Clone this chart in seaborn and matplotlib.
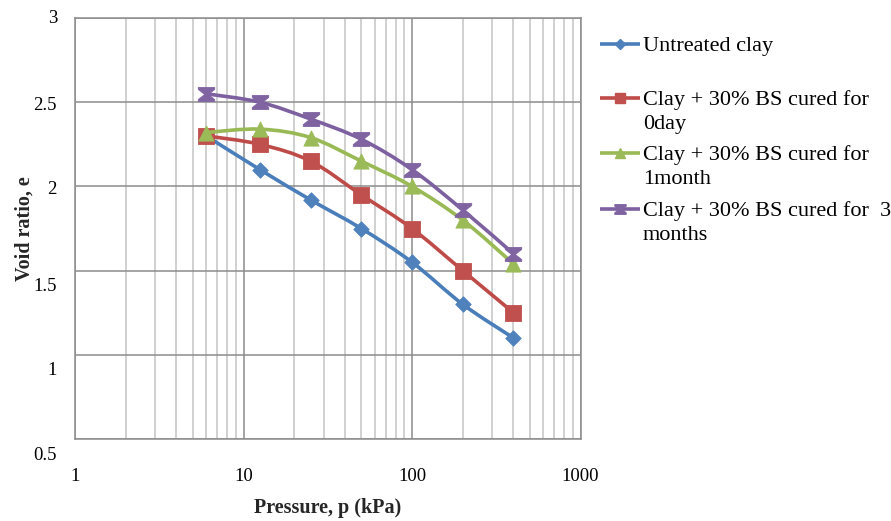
import numpy as np
import pandas as pd
import matplotlib
matplotlib.use("Agg")
import matplotlib.pyplot as plt
from matplotlib.path import Path
from matplotlib.patches import PathPatch
from matplotlib.lines import Line2D
from matplotlib.ticker import FixedLocator, LogLocator, NullFormatter
from matplotlib.transforms import ScaledTranslation
import seaborn as sns

# ---- data -------------------------------------------------------------
pressure = [6, 12.5, 25, 50, 100, 200, 400]            # kPa
untreated = [2.30, 2.10, 1.92, 1.75, 1.55, 1.30, 1.10]
cured_0day = [2.30, 2.25, 2.15, 1.95, 1.75, 1.50, 1.25]
cured_1month = [2.32, 2.34, 2.29, 2.15, 2.00, 1.80, 1.54]
cured_3months = [2.55, 2.50, 2.40, 2.28, 2.10, 1.86, 1.60]

series_labels = [
    "Untreated clay",
    "Clay + 30% BS cured for\n0day",
    "Clay + 30% BS cured for\n1month",
    "Clay + 30% BS cured for  3\nmonths",
]
x_ticks = [1, 10, 100, 1000]
x_tick_labels = ["1", "10", "100", "1000"]
y_ticks = [0.5, 1, 1.5, 2, 2.5, 3]
y_tick_labels = ["0.5", "1", "1.5", "2", "2.5", "3"]

# ---- styling ----------------------------------------------------------
sns.set_theme(style="white")
plt.rcParams["font.family"] = ["Liberation Serif", "DejaVu Serif"]

line_colors = ["#4A7EBB", "#BE4B48", "#98B954", "#7D60A0"]
fill_colors = ["#4F81BD", "#C0504D", "#9BBB59", "#8064A2"]

hourglass = Path(
    [(-1, 0.85), (1, 0.85), (1, 0.62), (0.22, 0), (1, -0.62), (1, -0.85),
     (-1, -0.85), (-1, -0.62), (-0.22, 0), (-1, 0.62), (-1, 0.85)],
    closed=True,
)
markers = ["D", "s", "^", hourglass]
marker_area = [62, 130, 120, 140]        # points^2 on the chart
legend_msize = [5.0, 7.5, 7.5, 8.0]      # points in the key

W, H = 891, 521
fig = plt.figure(figsize=(W / 100, H / 100), dpi=100)
ax = fig.add_axes([75 / W, (H - 439) / H, (580.5 - 75) / W, (439 - 18) / H])
ax.set_xscale("log")
ax.set_xlim(1, 1000)
ax.set_ylim(0.5, 3)


def smooth_path(xs, ys):
    """Cubic Bezier through the points (Catmull-Rom tangents in log-x space)."""
    pts = np.column_stack([np.log10(xs), np.asarray(ys, float)])
    n = len(pts)
    verts, codes = [pts[0]], [Path.MOVETO]
    for i in range(n - 1):
        p0 = pts[i - 1] if i > 0 else pts[i]
        p1, p2 = pts[i], pts[i + 1]
        p3 = pts[i + 2] if i + 2 < n else pts[i + 1]
        verts += [p1 + (p2 - p0) / 6, p2 - (p3 - p1) / 6, p2]
        codes += [Path.CURVE4] * 3
    verts = np.array(verts)
    verts[:, 0] = 10 ** verts[:, 0]
    return Path(verts, codes)


all_series = [untreated, cured_0day, cured_1month, cured_3months]
for i, vals in enumerate(all_series):
    df = pd.DataFrame({"pressure": pressure, "void_ratio": vals})
    patch = PathPatch(smooth_path(df["pressure"], df["void_ratio"]),
                      fill=False, edgecolor=line_colors[i], lw=2.6,
                      capstyle="round", joinstyle="round", zorder=3 + 2 * i)
    ax.add_patch(patch)
    sns.scatterplot(data=df, x="pressure", y="void_ratio", ax=ax,
                    marker=markers[i], s=marker_area[i],
                    color=fill_colors[i], edgecolor=fill_colors[i],
                    linewidth=0.6, legend=False, zorder=4 + 2 * i)

# ---- axes, grid and ticks ---------------------------------------------
ax.xaxis.set_major_locator(FixedLocator(x_ticks))
ax.set_xticklabels(x_tick_labels)
ax.xaxis.set_minor_locator(LogLocator(base=10, subs=np.arange(2, 10)))
ax.xaxis.set_minor_formatter(NullFormatter())
ax.yaxis.set_major_locator(FixedLocator(y_ticks))
ax.set_yticklabels(y_tick_labels)

ax.set_axisbelow(True)
ax.grid(which="major", axis="both", color="#8C8C8C", lw=1.1)
ax.grid(which="minor", axis="x", color="#C4C4C4", lw=1.1)
for sp in ax.spines.values():
    sp.set_color("#8C8C8C")
    sp.set_linewidth(1.1)

ax.tick_params(axis="both", which="major", direction="out", length=5,
               width=1.1, color="#8C8C8C", labelsize=13.5, labelcolor="black")
ax.tick_params(axis="x", which="major", pad=16)
ax.tick_params(axis="y", which="major", pad=8)
ax.tick_params(axis="x", which="minor", length=0)

# the value labels on the lower half of the e-axis sit a little low
y_label_drop_px = [14, 14, 14, 1.5, 1.5, -1.5]
for lab, dy in zip(ax.yaxis.get_majorticklabels(), y_label_drop_px):
    lab.set_transform(lab.get_transform()
                      + ScaledTranslation(0, -dy / 100, fig.dpi_scale_trans))

ax.set_xlabel("Pressure, p (kPa)", fontsize=14.5, fontweight="bold",
              labelpad=9)
ax.set_ylabel("Void ratio, e", fontsize=14.5, fontweight="bold",
              labelpad=-1)

# ---- key ----------------------------------------------------------------
def fx(px):
    return px / W


def fy(py):
    return 1 - py / H


key_rows = [44, 98, 153, 209]      # pixel rows of the key symbols
line_pitch = 23.5
for i, label in enumerate(series_labels):
    y = key_rows[i]
    fig.add_artist(Line2D([fx(600), fx(640)], [fy(y), fy(y)],
                          transform=fig.transFigure, color=line_colors[i],
                          lw=2.6, solid_capstyle="butt"))
    fig.add_artist(Line2D([fx(620)], [fy(y)], transform=fig.transFigure,
                          marker=markers[i], markersize=legend_msize[i],
                          color=fill_colors[i], markeredgecolor=fill_colors[i],
                          linestyle="none"))
    for k, part in enumerate(label.split("\n")):
        fig.text(fx(643), fy(y + 7 + k * line_pitch), part, fontsize=16,
                 va="baseline", ha="left", color="black")

fig.savefig("out.png", dpi=100)
